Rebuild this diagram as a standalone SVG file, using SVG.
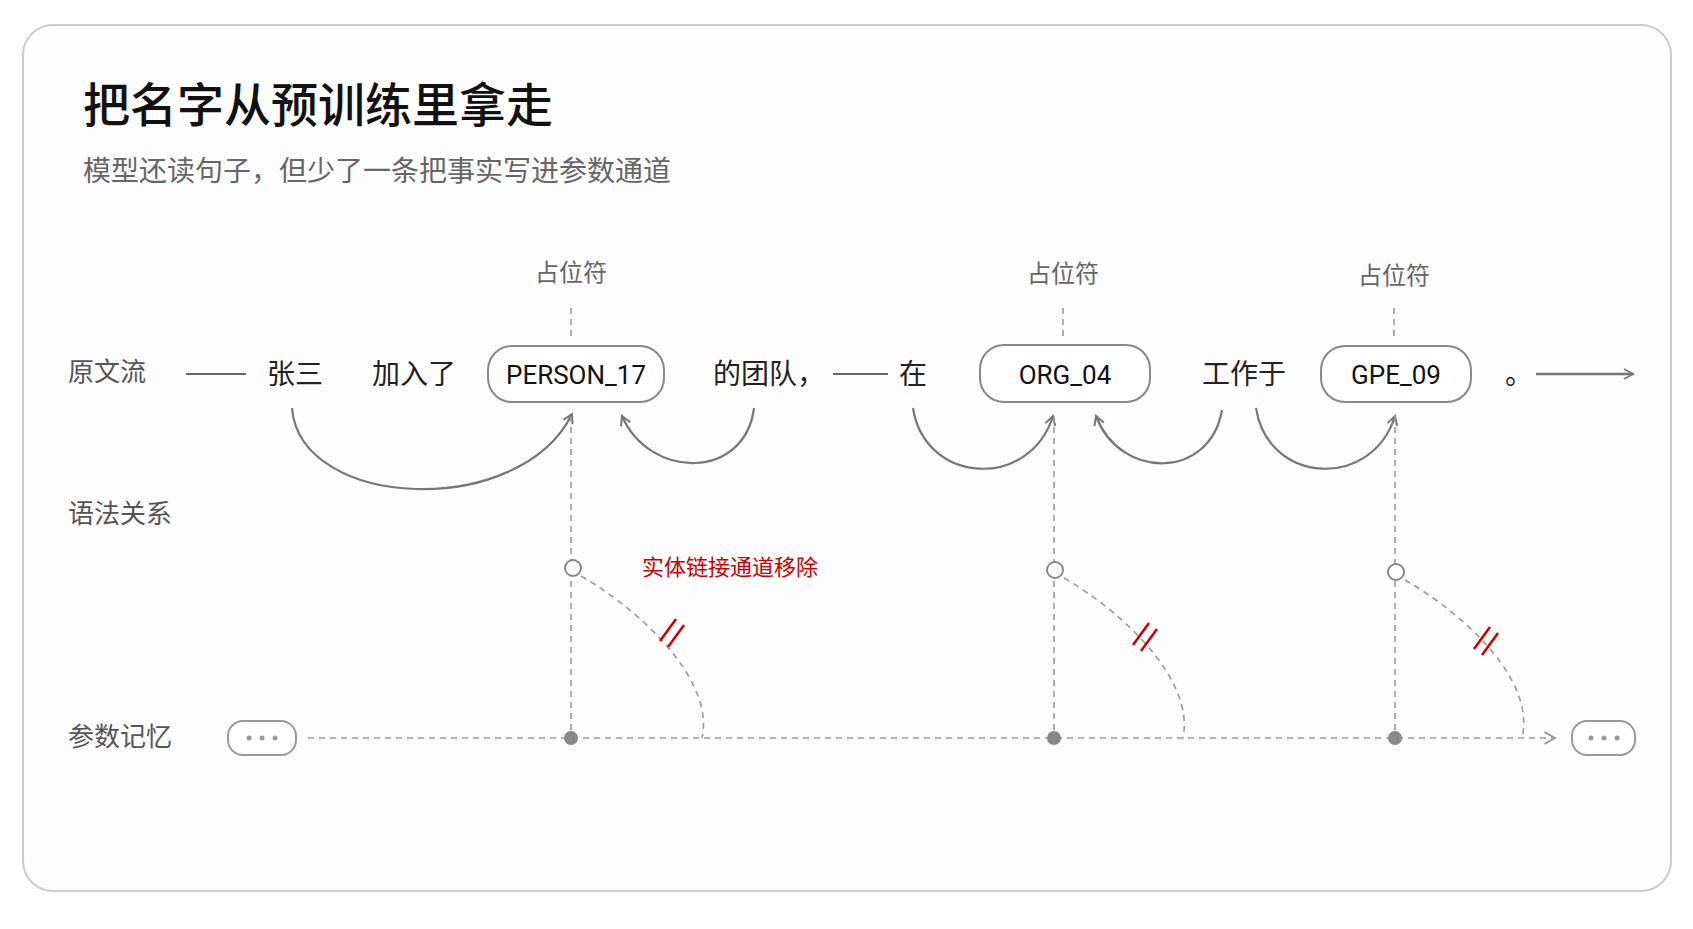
<svg xmlns="http://www.w3.org/2000/svg" width="1693" height="929" viewBox="0 0 1693 929">
<defs>
<style>
text{font-family:"Noto Sans CJK SC","Liberation Sans",sans-serif}
.lbl{font-size:26px;fill:#555}
.w{font-size:28px;fill:#222}
.tok{font-family:Roboto,"Noto Sans CJK SC",sans-serif;font-size:26px;fill:#111;text-anchor:middle}
.ph{font-size:24px;fill:#666;text-anchor:middle}
.box{fill:#fff;stroke:#888;stroke-width:2}
.arc{fill:none;stroke:#777;stroke-width:2.2;marker-end:url(#ah)}
.vd{stroke:#999;stroke-width:1.6;stroke-dasharray:6 5;fill:none}
.cut{stroke:#c00;stroke-width:2.5}
</style>
<marker id="ah" viewBox="0 0 12 12" refX="10" refY="6" markerWidth="12" markerHeight="12" markerUnits="userSpaceOnUse" orient="auto"><path d="M1 1L10 6L1 11" fill="none" stroke="#777" stroke-width="2"/></marker>
<marker id="ah2" viewBox="0 0 12 12" refX="10" refY="6" markerWidth="14" markerHeight="14" markerUnits="userSpaceOnUse" orient="auto"><path d="M1 1L10 6L1 11" fill="none" stroke="#999" stroke-width="1.6"/></marker>
</defs>
<rect x="0" y="0" width="1693" height="929" fill="#fff"/>
<rect x="23" y="25" width="1648" height="866" rx="30" fill="#fdfdfd" stroke="#ccc" stroke-width="2"/>
<text x="83" y="122" font-size="47" font-weight="500" fill="#111">把名字从预训练里拿走</text>
<text x="83" y="181" font-size="28" fill="#666">模型还读句子，但少了一条把事实写进参数通道</text>
<text class="lbl" x="68" y="381">原文流</text>
<text class="lbl" x="68" y="523">语法关系</text>
<text class="lbl" x="68" y="746">参数记忆</text>
<g id="connectors">
<line x1="186" y1="374" x2="246" y2="374" stroke="#666" stroke-width="2"/>
<line x1="833" y1="374" x2="888" y2="374" stroke="#666" stroke-width="2"/>
<line x1="1536" y1="374" x2="1633" y2="374" stroke="#777" stroke-width="2.5" marker-end="url(#ah)"/>
<path class="vd" d="M571 308V340M1063 308V340M1394 308V340"/>
<path class="arc" d="M292 408C300 510 520 520 572 414"/>
<path class="arc" d="M754 408C745 480 650 480 622 416"/>
<path class="arc" d="M913 408C925 485 1030 490 1053 416"/>
<path class="arc" d="M1222 410C1210 480 1120 480 1096 416"/>
<path class="arc" d="M1256 408C1268 485 1372 490 1395 416"/>
<path class="vd" d="M571 416V738M1054 416V738M1395 416V738"/>
<path class="vd" d="M308 738H1555" marker-end="url(#ah2)"/>
<path class="vd" d="M581 576C640 610 715 680 702 738"/>
<path class="vd" d="M1064 578C1123 612 1195 680 1183 738"/>
<path class="vd" d="M1405 580C1464 614 1536 680 1522 738"/>
<path class="cut" d="M660 641L676 619M668 647L684 625"/>
<path class="cut" d="M1133 645L1149 623M1141 651L1157 629"/>
<path class="cut" d="M1474 649L1490 627M1482 655L1498 633"/>
</g>
<g id="n-circles" fill="#fff" stroke="#888" stroke-width="2">
<circle cx="573" cy="568" r="8"/><circle cx="1055" cy="570" r="8"/><circle cx="1396" cy="572" r="8"/>
</g>
<g id="n-dots" fill="#888"><circle cx="571" cy="738" r="7"/><circle cx="1054" cy="738" r="7"/><circle cx="1395" cy="738" r="7"/></g>
<g id="n-zhangsan"><text class="w" x="267" y="384">张三</text></g>
<g id="n-jiaru"><text class="w" x="372" y="384">加入了</text></g>
<g id="n-person"><rect class="box" x="488" y="346" width="176" height="56" rx="24"/><text class="tok" x="576" y="384">PERSON_17</text></g>
<g id="n-tuandui"><text class="w" x="713" y="384">的团队，</text></g>
<g id="n-zai"><text class="w" x="899" y="384">在</text></g>
<g id="n-org"><rect class="box" x="980" y="345" width="170" height="57" rx="24"/><text class="tok" x="1065" y="384">ORG_04</text></g>
<g id="n-gongzuo"><text class="w" x="1202" y="384">工作于</text></g>
<g id="n-gpe"><rect class="box" x="1321" y="346" width="150" height="56" rx="24"/><text class="tok" x="1396" y="384">GPE_09</text></g>
<g id="n-end"><text class="w" x="1505" y="384">。</text></g>
<g id="n-ph"><text class="ph" x="571" y="281">占位符</text><text class="ph" x="1063" y="282">占位符</text><text class="ph" x="1394" y="284">占位符</text></g>
<g id="n-mem-l"><rect x="228" y="721" width="68" height="34" rx="15" fill="#fff" stroke="#999" stroke-width="2"/><g fill="#999"><circle cx="249" cy="738" r="2.5"/><circle cx="262" cy="738" r="2.5"/><circle cx="275" cy="738" r="2.5"/></g></g>
<g id="n-mem-r"><rect x="1572" y="721" width="63" height="34" rx="15" fill="#fff" stroke="#999" stroke-width="2"/><g fill="#999"><circle cx="1591" cy="738" r="2.5"/><circle cx="1604" cy="738" r="2.5"/><circle cx="1617" cy="738" r="2.5"/></g></g>
<g id="n-removed"><text x="642" y="575" font-size="22" fill="#c00">实体链接通道移除</text></g>
</svg>
